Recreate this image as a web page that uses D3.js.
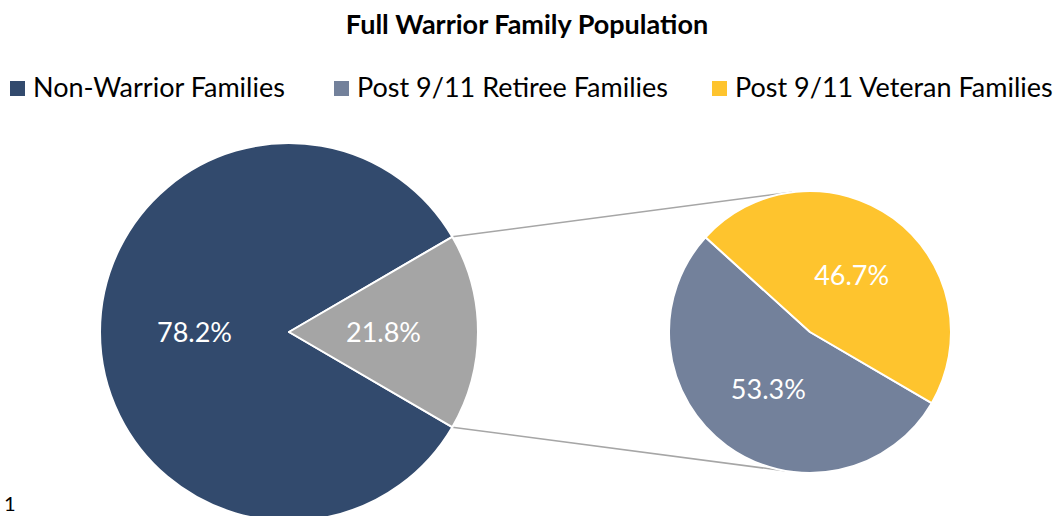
<!DOCTYPE html>
<html>
<head>
<meta charset="utf-8">
<script src="https://cdn.jsdelivr.net/npm/d3@7"></script>
<style>
  body { margin: 0; background: #fff; }
  svg { display: block; font-family: Lato, "Open Sans", sans-serif; }
</style>
</head>
<body>
<div id="chart"></div>
<script>
// data
var legendNames = ["Non-Warrior Families", "Post 9/11 Retiree Families", "Post 9/11 Veteran Families"];
var mainNames = ["Non-Warrior Families", "Post 9/11 Warrior Families"];
var mainShares = [83.2, 16.8];           // slice sizes as drawn
var mainLabels = ["78.2%", "21.8%"];
var subNames = ["Post 9/11 Retiree Families", "Post 9/11 Veteran Families"];
var subValues = [53.3, 46.7];
var subLabels = ["53.3%", "46.7%"];

var W = 1060, H = 516;
var colors = {"Non-Warrior Families": "#324a6d", "Post 9/11 Warrior Families": "#a5a5a5",
              "Post 9/11 Retiree Families": "#73819b", "Post 9/11 Veteran Families": "#fec42e"};

var svg = d3.select("#chart").append("svg").attr("width", W).attr("height", H);

// title
svg.append("text")
   .attr("x", 527).attr("y", 34)
   .attr("text-anchor", "middle")
   .style("font-weight", "bold").style("font-size", "27px")
   .text("Full Warrior Family Population");

// legend
var legendX = [10, 334, 712];
var legend = svg.append("g").selectAll("g").data(legendNames).enter().append("g")
   .attr("transform", function(d, i){ return "translate(" + legendX[i] + ",0)"; });
legend.append("rect").attr("x", 0).attr("y", 81).attr("width", 15).attr("height", 15)
   .attr("fill", function(d){ return colors[d]; });
legend.append("text").attr("x", 23).attr("y", 97)
   .style("font-size", "27px").attr("fill", "#000")
   .text(function(d){ return d; });

// big pie
var bigC = [289, 332], bigR = 189;
var T = d3.sum(mainShares);
var start = Math.PI / 2 - 2 * Math.PI * mainShares[0] / T - Math.PI * mainShares[1] / T;
var bigPie = d3.pie().sort(null).startAngle(start).endAngle(start + 2 * Math.PI);
var bigArc = d3.arc().innerRadius(0).outerRadius(bigR);
var bigLabelArc = d3.arc().innerRadius(bigR / 2).outerRadius(bigR / 2);
var bigData = bigPie(mainShares);

// small pie
var smC = [810, 332], smR = 141;
var smStart = 120.3 * Math.PI / 180;
var smPie = d3.pie().sort(null).startAngle(smStart).endAngle(smStart + 2 * Math.PI);
var smArc = d3.arc().innerRadius(0).outerRadius(smR);
var smLabelArc = d3.arc().innerRadius(smR / 2).outerRadius(smR / 2);
var smData = smPie(subValues);

// connector lines from the split slice to the second pie
var g = bigData[1];
function pt(c, r, a){ return [c[0] + r * Math.sin(a), c[1] - r * Math.cos(a)]; }
var p1 = pt(bigC, bigR, g.startAngle), p2 = pt(bigC, bigR, g.endAngle);
var q1 = pt(smC, smR, -7.3 * Math.PI / 180), q2 = pt(smC, smR, 188.9 * Math.PI / 180);
svg.append("g").selectAll("line").data([[p1, q1], [p2, q2]]).enter().append("line")
   .attr("x1", function(d){ return d[0][0]; }).attr("y1", function(d){ return d[0][1]; })
   .attr("x2", function(d){ return d[1][0]; }).attr("y2", function(d){ return d[1][1]; })
   .attr("stroke", "#a6a6a6").attr("stroke-width", 1.5);

var gBig = svg.append("g").attr("transform", "translate(" + bigC + ")");
gBig.selectAll("path").data(bigData).enter().append("path")
   .attr("d", bigArc)
   .attr("fill", function(d, i){ return colors[mainNames[i]]; })
   .attr("stroke", "#fff").attr("stroke-width", 2).attr("stroke-linejoin", "round");
gBig.selectAll("text").data(bigData).enter().append("text")
   .attr("transform", function(d){ return "translate(" + bigLabelArc.centroid(d) + ")"; })
   .attr("text-anchor", "middle").attr("dy", "0.36em")
   .style("font-size", "27px").attr("fill", "#fff")
   .text(function(d, i){ return mainLabels[i]; });

var gSm = svg.append("g").attr("transform", "translate(" + smC + ")");
gSm.selectAll("path").data(smData).enter().append("path")
   .attr("d", smArc)
   .attr("fill", function(d, i){ return colors[subNames[i]]; })
   .attr("stroke", "#fff").attr("stroke-width", 2).attr("stroke-linejoin", "round");
gSm.selectAll("text").data(smData).enter().append("text")
   .attr("transform", function(d){ return "translate(" + smLabelArc.centroid(d) + ")"; })
   .attr("text-anchor", "middle").attr("dy", "0.36em")
   .style("font-size", "27px").attr("fill", "#fff")
   .text(function(d, i){ return subLabels[i]; });

// stray page number at the bottom left
svg.append("text").attr("x", 4).attr("y", 511).style("font-size", "20px").attr("fill", "#000").text("1");
</script>
</body>
</html>
